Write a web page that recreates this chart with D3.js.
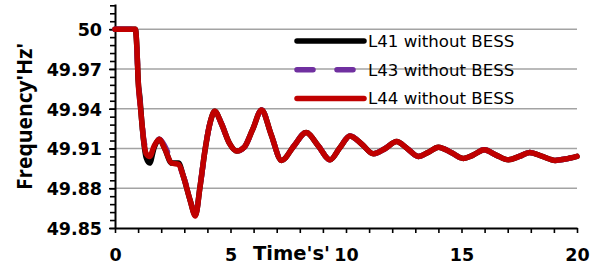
<!DOCTYPE html>
<html>
<head>
<meta charset="utf-8">
<script src="https://cdn.jsdelivr.net/npm/d3@7"></script>
<style>
  html, body { margin: 0; padding: 0; background: #fff; }
  svg { display: block; }
</style>
</head>
<body>
<svg id="chart"></svg>
<script>
// time in seconds, shared by all three series
const time = [0, 0.5, 0.88, 0.95, 1.0, 1.08, 1.15, 1.25, 1.35, 1.5, 1.7, 1.92, 2.15, 2.45, 2.75, 2.96, 3.25, 3.48, 3.68, 3.9,
  4.11, 4.32, 4.6, 4.95, 5.27, 5.6, 5.95, 6.35, 6.75, 7.21, 7.75, 8.27, 8.8, 9.31, 9.75, 10.17, 10.7, 11.18, 11.7, 12.19,
  12.65, 13.13, 13.55, 14.0, 14.55, 15.08, 15.5, 15.98, 16.5, 17.03, 17.5, 17.95, 18.5, 19.05, 19.5, 20];

const l41 = [50, 50, 50, 49.985, 49.962, 49.948, 49.932, 49.914, 49.903, 49.899, 49.911, 49.917, 49.910, 49.899, 49.899, 49.889, 49.871, 49.8595, 49.881, 49.909,
  49.929, 49.938, 49.929, 49.914, 49.908, 49.911, 49.924, 49.939, 49.921, 49.901, 49.912, 49.922, 49.912, 49.9015, 49.911, 49.9195, 49.913, 49.906, 49.910, 49.9153,
  49.910, 49.904, 49.907, 49.911, 49.907, 49.9025, 49.905, 49.909, 49.905, 49.9015, 49.904, 49.907, 49.904, 49.901, 49.902, 49.904];

const l43 = [50, 50, 50, 49.985, 49.962, 49.945, 49.932, 49.916, 49.910, 49.908, 49.913, 49.917, 49.912, 49.901, 49.898, 49.889, 49.873, 49.861, 49.881, 49.909,
  49.929, 49.938, 49.929, 49.914, 49.908, 49.911, 49.924, 49.939, 49.921, 49.901, 49.912, 49.922, 49.912, 49.9015, 49.911, 49.9195, 49.913, 49.906, 49.910, 49.9153,
  49.910, 49.904, 49.907, 49.911, 49.907, 49.9025, 49.905, 49.909, 49.905, 49.9015, 49.904, 49.907, 49.904, 49.901, 49.902, 49.904];

const l44 = [50, 50, 50, 49.985, 49.962, 49.945, 49.932, 49.915, 49.906, 49.904, 49.912, 49.917, 49.910, 49.899, 49.898, 49.889, 49.871, 49.859, 49.881, 49.909,
  49.929, 49.938, 49.929, 49.914, 49.908, 49.911, 49.924, 49.939, 49.921, 49.901, 49.912, 49.922, 49.912, 49.9015, 49.911, 49.9195, 49.913, 49.906, 49.910, 49.9153,
  49.910, 49.904, 49.907, 49.911, 49.907, 49.9025, 49.905, 49.909, 49.905, 49.9015, 49.904, 49.907, 49.904, 49.901, 49.902, 49.904];

const seriesNames = ["L41 without BESS", "L43 without BESS", "L44 without BESS"];
const xTicks = [0, 5, 10, 15, 20];
const yTicks = [49.85, 49.88, 49.91, 49.94, 49.97, 50];
const yTickLabels = ["49.85", "49.88", "49.91", "49.94", "49.97", "50"];

const W = 606, H = 267;
const margin = {top: 4, right: 29, bottom: 39, left: 115};
const innerW = W - margin.left - margin.right;
const innerH = H - margin.top - margin.bottom;

const svg = d3.select("#chart").attr("width", W).attr("height", H);
const chart = svg.append("g").attr("transform", `translate(${margin.left}, ${margin.top})`);

const xscale = d3.scaleLinear().domain([0, 20]).range([0, innerW]);
const yscale = d3.scaleLinear().domain([49.85, 50.019]).range([innerH, 0]);

// gridlines
chart.append("g")
  .selectAll("line")
  .data(yTicks.slice(1))
  .join("line")
  .attr("x1", 0).attr("x2", innerW)
  .attr("y1", d => yscale(d)).attr("y2", d => yscale(d))
  .attr("stroke", "#a3a3a3").attr("stroke-width", 1.6);

// minor y ticks
const yminor = chart.append("g")
  .call(d3.axisLeft(yscale).tickValues(d3.range(49.85, 50.019, 0.006)).tickSize(5).tickSizeOuter(0).tickFormat(""));
yminor.select(".domain").remove();
yminor.selectAll("line").attr("stroke", "#000").attr("stroke-width", 1.6);

// y axis
const yaxis = chart.append("g")
  .call(d3.axisLeft(yscale).tickValues(yTicks).tickSize(6).tickSizeOuter(0).tickPadding(7)
    .tickFormat((d, i) => yTickLabels[i]));
yaxis.select(".domain").attr("stroke", "#000").attr("stroke-width", 2);
yaxis.selectAll("line").attr("stroke", "#000").attr("stroke-width", 1.6);
yaxis.selectAll("text")
  .attr("font-family", "DejaVu Sans").attr("font-weight", "bold").attr("font-size", 17.5)
  .attr("fill", "#000").attr("dy", "0.36em");

// x axis
const xaxis = chart.append("g")
  .attr("transform", `translate(0, ${innerH})`)
  .call(d3.axisBottom(xscale).tickValues(d3.range(0, 21, 1)).tickSize(5).tickSizeOuter(0)
    .tickFormat(d => xTicks.includes(d) ? d : ""));
xaxis.select(".domain").attr("stroke", "#000").attr("stroke-width", 2);
xaxis.selectAll("line").attr("stroke", "#000").attr("stroke-width", 1.6);
xaxis.selectAll("text")
  .attr("font-family", "DejaVu Sans").attr("font-weight", "bold").attr("font-size", 17.5)
  .attr("fill", "#000").attr("y", 33).attr("dy", 0);

// series
const series = [
  {name: seriesNames[0], values: l41, color: "#000000", dash: null},
  {name: seriesNames[1], values: l43, color: "#7030a0", dash: "16,24"},
  {name: seriesNames[2], values: l44, color: "#c00000", dash: null},
];

const line = d3.line()
  .x((d, i) => xscale(time[i]))
  .y(d => yscale(d))
  .curve(d3.curveMonotoneX);

chart.append("g")
  .selectAll("path")
  .data(series)
  .join("path")
  .attr("d", d => line(d.values))
  .attr("fill", "none")
  .attr("stroke", d => d.color)
  .attr("stroke-width", 5.5)
  .attr("stroke-linejoin", "round")
  .attr("stroke-linecap", "round")
  .attr("stroke-dasharray", d => d.dash);

// legend
const legend = svg.append("g").attr("transform", "translate(297, 41)");
const item = legend.selectAll("g")
  .data(series)
  .join("g")
  .attr("transform", (d, i) => `translate(0, ${i * 28.7})`);
item.append("line")
  .attr("x1", 0).attr("x2", 67)
  .attr("stroke", d => d.color)
  .attr("stroke-width", 5.5)
  .attr("stroke-linecap", "round")
  .attr("stroke-dasharray", d => d.dash);
item.append("text")
  .attr("x", 71).attr("dy", "0.36em")
  .attr("font-family", "DejaVu Sans").attr("font-size", 16.6).attr("fill", "#000")
  .text(d => d.name);

// axis titles
svg.append("text")
  .attr("transform", "translate(32, 116.5) rotate(-90)")
  .attr("text-anchor", "middle")
  .attr("font-family", "Open Sans").attr("font-weight", "bold").attr("font-size", 21)
  .attr("fill", "#000")
  .text("Frequency'Hz'");

svg.append("text")
  .attr("x", 253).attr("y", 260)
  .attr("font-family", "DejaVu Sans").attr("font-weight", "bold").attr("font-size", 19.5)
  .attr("fill", "#000")
  .text("Time's'");
</script>
</body>
</html>
